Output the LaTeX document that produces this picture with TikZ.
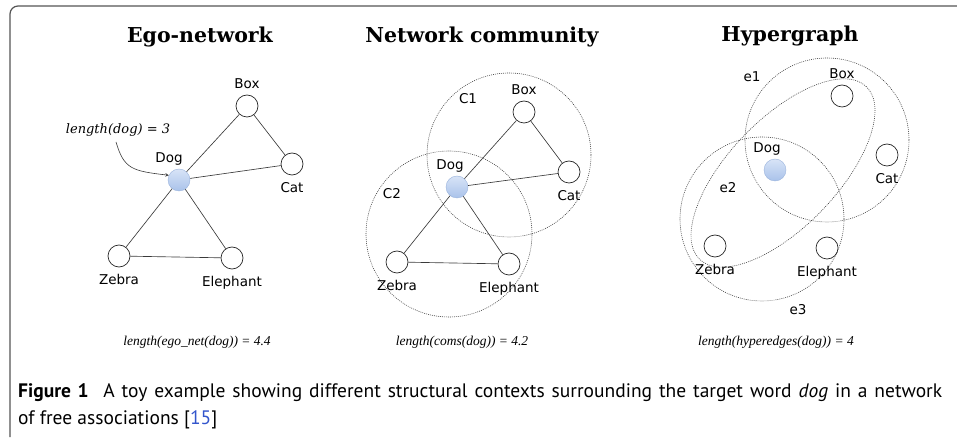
\documentclass[tikz,border=0pt]{standalone}
\usepackage{fontspec}
\setmainfont{DejaVu Serif}
\setsansfont{DejaVu Sans}
\newfontfamily\capfont{PT Sans}
\newfontfamily\timesfont{Liberation Serif}
\usetikzlibrary{positioning}
\definecolor{edgegray}{HTML}{3A3A3A}
\definecolor{dogtop}{HTML}{D8E4F7}
\definecolor{dogbot}{HTML}{A9C2EA}
\definecolor{dogline}{HTML}{9AB3DC}
\definecolor{citeblue}{HTML}{3355CC}
\definecolor{framegray}{HTML}{555555}

\begin{document}
\begin{tikzpicture}[x=1pt,y=1pt,>=stealth,
    word/.style={circle,draw=black!85,line width=0.7pt,minimum size=22pt,inner sep=0pt},
    target/.style={circle,draw=dogline,thin,top color=dogtop,bottom color=dogbot,
      minimum size=22pt,inner sep=0pt},
    lbl/.style={font=\sffamily\fontsize{13.5}{14}\selectfont,inner sep=1pt,
      text height=10pt,text depth=3pt},
    lbldown/.style={lbl,yshift=-4pt},
    title/.style={font=\bfseries\fontsize{20.5}{22}\selectfont},
    measure/.style={font=\timesfont\itshape\fontsize{13.5}{14}\selectfont},
    group/.style={draw=black!75,line width=0.6pt,dash pattern=on 0.9pt off 1.1pt},
    link/.style={draw=edgegray,line width=0.65pt},
    caption/.style={anchor=base west,inner sep=0pt,font=\capfont\fontsize{19.5}{21}\selectfont},
    label distance=2pt]

  \useasboundingbox (0,0) rectangle (957,439);
  \draw[framegray,line width=1.2pt,rounded corners=8pt] (958,433) -- (10,433) -- (10,2);

  % ego-network
  \node[title] (egotitle) at (200,402) {Ego-network};
  \node[word]   (ebox) at (247,333) [label={[lbl]above:Box}] {};
  \node[word]   (ecat) at (292,275) [label={[lbldown]below:Cat}] {};
  \node[target] (edog) at (179,259) [label={[lbl,xshift=-10pt]above:Dog}] {};
  \node[word]   (ezeb) at (119,183) [label={[lbldown]below:Zebra}] {};
  \node[word]   (eele) at (232,181) [label={[lbldown]below:Elephant}] {};

  \path[link] (ebox) edge (edog) edge (ecat);
  \path[link] (ecat) edge (edog);
  \path[link] (edog) edge (ezeb) edge (eele);
  \path[link] (ezeb) edge (eele);

  \node[font=\itshape\fontsize{13}{15}\selectfont] (elen) at (118,309) {length(dog) = 3};
  \draw[->,edgegray,line width=0.6pt] (116,297) .. controls (124,270) and (132,268) .. (edog.155);
  \node[measure] (egolen) at (197,97) {length(ego\_net(dog)) = 4.4};

  % network community
  \node[title] (comtitle) at (482,402) {Network community};
  \draw[group] (509,284) circle[radius=82pt];
  \draw[group] (449,205) circle[radius=83pt];
  \node[lbl] (c1) at (468,339) {C1};
  \node[lbl] (c2) at (392,244) {C2};

  \node[word]   (cbox) at (524,327) [label={[lbl]above:Box}] {};
  \node[word]   (ccat) at (569,267) [label={[lbldown]below:Cat}] {};
  \node[target] (cdog) at (457,252) [label={[lbl,xshift=-7pt]above:Dog}] {};
  \node[word]   (czeb) at (397,177) [label={[lbldown]below:Zebra}] {};
  \node[word]   (cele) at (509,175) [label={[lbldown]below:Elephant}] {};

  \path[link] (cbox) edge (cdog) edge (ccat);
  \path[link] (ccat) edge (cdog);
  \path[link] (cdog) edge (czeb) edge (cele);
  \path[link] (czeb) edge (cele);

  \node[measure] (comlen) at (462,97) {length(coms(dog)) = 4.2};

  % hypergraph
  \node[title] (hyptitle) at (790,403) {Hypergraph};
  \draw[group] (827,299) circle[radius=82pt];
  \draw[group] (762,220) circle[radius=82pt];
  \draw[group,rotate around={46:(783,266)}] (783,266) ellipse[x radius=120pt,y radius=54pt];
  \node[lbl] (e1) at (752,361) {e1};
  \node[lbl] (e2) at (728,250) {e2};
  \node[lbl] (e3) at (798,128) {e3};

  \node[word]   (hbox) at (842,343) [label={[lbl]above:Box}] {};
  \node[word]   (hcat) at (887,284) [label={[lbldown]below:Cat}] {};
  \node[target] (hdog) at (775,269) [label={[lbl,xshift=-8pt]above:Dog}] {};
  \node[word]   (hzeb) at (715,193) [label={[lbldown]below:Zebra}] {};
  \node[word]   (hele) at (827,191) [label={[lbldown]below:Elephant}] {};

  \node[measure] (hyplen) at (776,97) {length(hyperedges(dog)) = 4};

  % caption
  \node[caption] (cap1) at (18,42)
    {\makebox[924pt][s]{\textbf{Figure 1}\hspace{0.4em} A toy example showing different structural contexts surrounding the target word \textit{dog} in a network}};
  \node[caption] (cap2) at (18,15) {of free associations [\textcolor{citeblue}{15}]};
\end{tikzpicture}
\end{document}
